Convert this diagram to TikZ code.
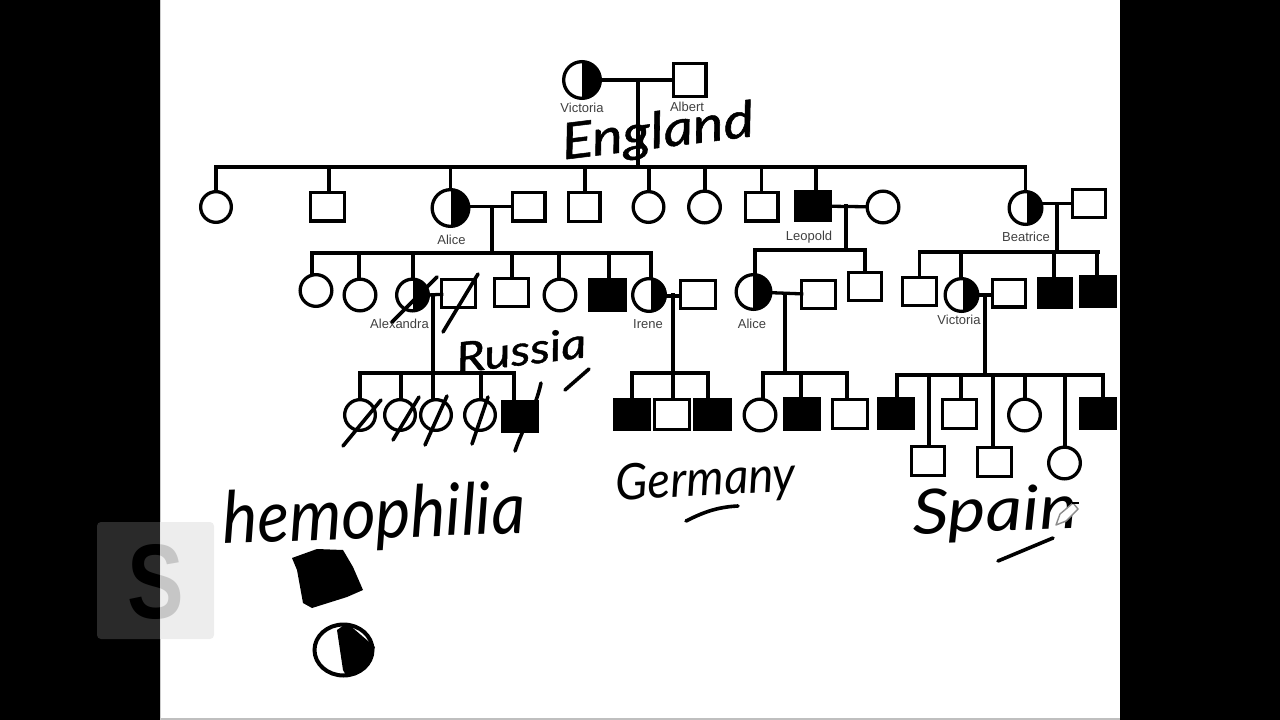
\documentclass[tikz,border=0pt]{standalone}
\usepackage{fontspec}
\setmainfont{Liberation Sans}
\newfontfamily\handfont[ItalicFont=* Italic]{Lato}
\usetikzlibrary{calc}
\tikzset{
  person/.style={draw=black,line width=3.3pt,inner sep=0pt,outer sep=0pt},
  fem/.style={person,circle,minimum size={2*#1-3.3pt}},
  fem/.default=17.5pt,
  mal/.style 2 args={person,rectangle,minimum width={#1-3.3pt},minimum height={#2-3.3pt}},
  sick/.style={fill=black},
  carrier/.style={path picture={\fill[black] ([xshift=#1]path picture bounding box.north) rectangle (path picture bounding box.south east);}},
  carrier/.default=1pt,
  link/.style={draw=black,line width=3.3pt,line cap=rect},
  slash/.style={draw=black,line width=3.6pt,line cap=round},
  plabel/.style={font=\fontsize{13}{14}\selectfont,text=black!75,inner sep=0pt},
  hand/.style={font=\handfont\itshape\fontsize{#1}{#1}\selectfont,inner sep=0pt,text=black},
  handbold/.style={font=\handfont\itshape\fontsize{#1}{#1}\selectfont\addfontfeature{FakeBold=1},inner sep=0pt,text=black},
}
\begin{document}
\begin{tikzpicture}[x=1pt,y=-1pt]
\useasboundingbox (0,0) rectangle (1280,720);
\fill[white] (0,0) rectangle (1280,720);
\fill[black] (0,0) rectangle (160,720);
\fill[black] (1120,0) rectangle (1280,720);
\fill[black!25] (160,717.5) rectangle (1120,720);
\fill[black!20] (160,0) rectangle (161,720);
% watermark
\begin{scope}
  \clip (97,522) rectangle (160,639);
  \fill[white,opacity=.165,rounded corners=4pt] (97,522) rectangle (214,639);
\end{scope}
\node[font=\bfseries\fontsize{106}{106}\selectfont,text=black,xscale=.8,inner sep=0pt] (logoS) at (156,582.5) {S};
\fill[white,opacity=.84] (160,522) rectangle (214,639);
\begin{scope}
  \clip (160,522) rectangle (214,639);
  \fill[black,opacity=.07,rounded corners=4pt] (97,522) rectangle (214,639);
\end{scope}

% generation 1
\node[fem=20pt,carrier=0pt] (vic) at (582,80) {};
\node[mal={36pt}{36pt}] (alb) at (689.5,80) {};
% generation 2
\node[fem=17pt] (a1) at (216,207) {};
\node[mal={37pt}{32pt}] (a2) at (327.5,206.5) {};
\node[fem=20pt,carrier=0pt] (alice) at (450.5,208) {};
\node[mal={36pt}{32pt}] (aliceh) at (528.5,206.5) {};
\node[mal={35pt}{32pt}] (a3) at (584,207) {};
\node[fem=17pt] (a4) at (648.5,207) {};
\node[fem] (a5) at (704.5,207) {};
\node[mal={36pt}{32pt}] (a6) at (761.5,206.5) {};
\node[mal={38pt}{32pt},sick] (leo) at (813,206) {};
\node[fem] (leow) at (883,207) {};
\node[fem=18pt,carrier=1pt] (bea) at (1025.5,208) {};
\node[mal={36pt}{31pt}] (beah) at (1089,203.5) {};
% generation 3, Alice's children
\node[fem] (b1) at (316,290.5) {};
\node[fem] (b2) at (360,295) {};
\node[fem,carrier=0pt] (alex) at (412.5,295) {};
\node[mal={37pt}{31pt}] (nic) at (458.5,293.5) {};
\node[mal={37pt}{31pt}] (b3) at (511.5,292.5) {};
\node[fem] (b4) at (560,295) {};
\node[mal={39pt}{34pt},sick] (b5) at (607.5,295) {};
\node[fem=18pt,carrier=2pt] (irene) at (649,295) {};
\node[mal={38pt}{31pt}] (ireneh) at (698,294.5) {};
% Leopold's children
\node[fem=19pt,carrier=-1pt] (alice2) at (753.5,292) {};
\node[mal={37pt}{31pt}] (alice2h) at (818.5,294.5) {};
\node[mal={36pt}{31pt}] (c2) at (865,286.5) {};
% Beatrice's children
\node[mal={37pt}{31pt}] (d1) at (919.5,291.5) {};
\node[fem=18pt,carrier=1pt] (vic2) at (961.5,295) {};
\node[mal={36pt}{31pt}] (vic2h) at (1009,293) {};
\node[mal={36pt}{32pt},sick] (d3) at (1055,293) {};
\node[mal={38pt}{33pt},sick] (d4) at (1098,291.5) {};
% generation 4, Russia
\node[fem=17pt] (r1) at (360,415) {};
\node[fem=17pt] (r2) at (400,415) {};
\node[fem=17pt] (r3) at (436,415) {};
\node[fem=17pt] (r4) at (480,415) {};
\node[mal={38pt}{33pt},sick] (r5) at (520,416.5) {};
% Germany
\node[mal={38pt}{33pt},sick] (g1) at (632,414.5) {};
\node[mal={38pt}{33pt}] (g2) at (672,414.5) {};
\node[mal={39pt}{33pt},sick] (g3) at (712.5,414.5) {};
% Alice's grandchildren
\node[fem] (h1) at (760,415) {};
\node[mal={38pt}{34pt},sick] (h2) at (802,414) {};
\node[mal={38pt}{32pt}] (h3) at (850,414) {};
% Spain
\node[mal={38pt}{33pt},sick] (s1) at (896,413.5) {};
\node[mal={37pt}{32pt}] (s3) at (959.5,414) {};
\node[fem] (s5) at (1024.5,415) {};
\node[mal={38pt}{33pt},sick] (s7) at (1098,413.5) {};
\node[mal={36pt}{32pt}] (s2) at (928,461) {};
\node[mal={37pt}{32pt}] (s4) at (994.5,462) {};
\node[fem] (s6) at (1064.5,463) {};

% couples and descent lines
\coordinate (bar0) at (638,167);
\coordinate (barA) at (492,253);
\coordinate (barL) at (846,250);
\coordinate (barB) at (1057,252);
\coordinate (barR) at (433,373);
\coordinate (barG) at (673,373);
\coordinate (barH) at (785,373);
\coordinate (barS) at (985,375);
\draw[link] (vic) -- (alb);
\draw[link] (vic -| bar0) -- (bar0);
\draw[link] (alice.east |- aliceh) -- (aliceh);
\draw[link] (aliceh -| barA) -- (barA);
\draw[link] (leo) -- (leow);
\draw[link] (leo -| barL) -- (barL);
\draw[link] (bea.east |- beah) -- (beah);
\draw[link] (beah -| barB) -- (barB);
\draw[link] (alex.east) -- (nic);
\draw[link] (alex -| barR) -- (barR);
\draw[link] (irene.east) ++(0,1) -- (ireneh.west |- 0,296);
\draw[link] (ireneh -| barG) -- (barG);
\draw[link] (alice2) -- (alice2h);
\draw[link] (alice2h -| barH) -- (barH);
\draw[link] (vic2) -- (vic2h.west |- vic2);
\draw[link] (vic2 -| barS) -- (barS);
% sibship bars
\draw[link] (a1 |- bar0) -- (bea |- bar0);
\draw[link] (b1.north |- barA) ++(-4,0) -- (irene |- barA);
\draw[link] (755,250) -- (865,250);
\draw[link] (d1 |- barB) -- (d4 |- barB);
\draw[link] (r1 |- barR) -- (514,373);
\draw[link] (g1 |- barG) -- (708,373);
\draw[link] (763,373) -- (847,373);
\draw[link] (897,375) -- (1103,375);
% drops
\foreach \n/\d in {a1/0,a2/1.5,alice/0,a3/1,a4/0.5,a5/0.5,a6/0,leo/3,bea/0}
  \draw[link] ([xshift=\d pt]\n.north |- bar0) -- ([xshift=\d pt]\n.north);
\foreach \n/\d in {b1/-4,b2/-1,alex/0.5,b3/0.5,b4/-1,b5/1.5,irene/2}
  \draw[link] ([xshift=\d pt]\n.north |- barA) -- ([xshift=\d pt]\n.north);
\foreach \n/\d in {alice2/1.5,c2/0}
  \draw[link] ([xshift=\d pt]\n.north |- barL) -- ([xshift=\d pt]\n.north);
\foreach \n/\d in {d1/0,vic2/-0.5,d3/-1,d4/-1}
  \draw[link] ([xshift=\d pt]\n.north |- barB) -- ([xshift=\d pt]\n.north);
\foreach \n/\d in {r1/0,r2/1,r3/-3,r4/1,r5/-6}
  \draw[link] ([xshift=\d pt]\n.north |- barR) -- ([xshift=\d pt]\n.north);
\foreach \n/\d in {g1/0,g2/1,g3/-4.5}
  \draw[link] ([xshift=\d pt]\n.north |- barG) -- ([xshift=\d pt]\n.north);
\foreach \n/\d in {h1/3,h2/-1,h3/-3}
  \draw[link] ([xshift=\d pt]\n.north |- barH) -- ([xshift=\d pt]\n.north);
\foreach \n/\d in {s1/1,s2/1,s3/1.5,s4/-1.5,s5/0.5,s6/0.5,s7/5}
  \draw[link] ([xshift=\d pt]\n.north |- barS) -- ([xshift=\d pt]\n.north);

% printed names
\node[plabel] (nvic) at (582,108) {Victoria};
\node[plabel] (nalb) at (687,107) {Albert};
\node[plabel] (nalice) at (451.5,240) {Alice};
\node[plabel] (nleo) at (809,237) {Leopold};
\node[plabel] (nbea) at (1026,237) {Beatrice};
\node[plabel] (nalex) at (399.5,324) {Alexandra};
\node[plabel] (nirene) at (648,324) {Irene};
\node[plabel] (nalice2) at (752,324) {Alice};
\node[plabel] (nvic2) at (959,320) {Victoria};

% pen strokes
\draw[slash] (392,322) -- (437,277);
\draw[slash] (443,332) -- (478,274);
\draw[slash] (343,446) -- (381,400);
\draw[slash] (393,440) -- (419,397);
\draw[slash] (425,445) -- (447,396);
\draw[slash] (472,444) -- (488,397);
\draw[slash] (515,451) .. controls (524,425) and (535,410) .. (541,383);
\draw[slash] (565,390) -- (589,369);
\draw[slash] (686,521) .. controls (700,514) and (715,507) .. (738,506);
\draw[slash] (998,561) -- (1053,538);

% handwritten words
\node[handbold=50,rotate=7,xscale=1.16] (england) at (658,134) {England};
\node[handbold=42,rotate=7,xscale=1.18] (russia) at (521,350) {Russia};
\node[hand=50,rotate=3,xscale=.95] (germany) at (706,482) {Germany};
\node[hand=62,rotate=2,xscale=1.16] (spain) at (995,514) {Spain};
\node[hand=72,rotate=2,xscale=.92] (hemo) at (374,518) {hemophilia};

% legend symbols
\fill[black] (292,558) -- (317,549) -- (343,550) -- (353,567) -- (363,590) -- (347,597) -- (312,608) -- (303,603) -- (297,570) -- cycle;
\draw[black,line width=4pt] (343.5,650) ellipse [x radius=29pt,y radius=25.5pt];
\fill[black] (347,623) -- (375,647) -- (367,667) -- (347,677) -- (343,670) -- (337,630) -- cycle;

% pencil cursor
\draw[black!45,fill=white,line width=1.4pt,line join=round] (1056,525) -- (1060,514) -- (1073,503) -- (1078,509) -- (1066,521) -- cycle;
\draw[black,line width=1.5pt] (1072,503) -- (1079,503);
\end{tikzpicture}
\end{document}
